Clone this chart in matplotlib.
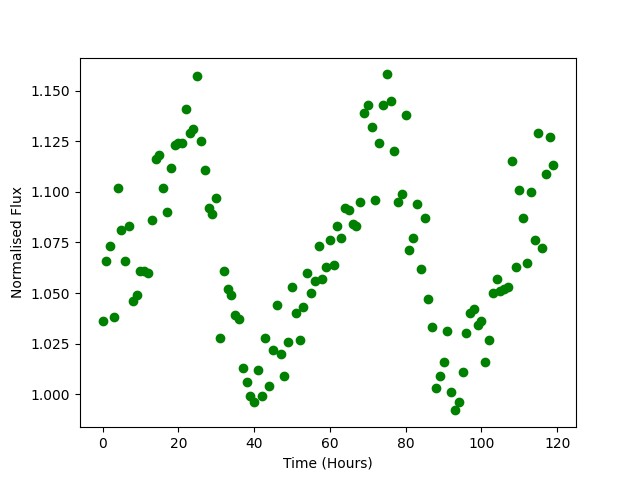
import matplotlib
matplotlib.use("Agg")
import matplotlib.pyplot as plt

# Data: hourly normalised flux readings
hours = list(range(120))
flux = [
    1.036, 1.066, 1.073, 1.038, 1.102, 1.081, 1.066, 1.083, 1.046, 1.049,
    1.061, 1.061, 1.060, 1.086, 1.116, 1.118, 1.102, 1.090, 1.112, 1.123,
    1.124, 1.124, 1.141, 1.129, 1.131, 1.157, 1.125, 1.111, 1.092, 1.089,
    1.097, 1.028, 1.061, 1.052, 1.049, 1.039, 1.037, 1.013, 1.006, 0.999,
    0.996, 1.012, 0.999, 1.028, 1.004, 1.022, 1.044, 1.020, 1.009, 1.026,
    1.053, 1.040, 1.027, 1.043, 1.060, 1.050, 1.056, 1.073, 1.057, 1.063,
    1.076, 1.064, 1.083, 1.077, 1.092, 1.091, 1.084, 1.083, 1.095, 1.139,
    1.143, 1.132, 1.096, 1.124, 1.143, 1.158, 1.145, 1.120, 1.095, 1.099,
    1.138, 1.071, 1.077, 1.094, 1.062, 1.087, 1.047, 1.033, 1.003, 1.009,
    1.016, 1.031, 1.001, 0.992, 0.996, 1.011, 1.030, 1.040, 1.042, 1.034,
    1.036, 1.016, 1.027, 1.050, 1.057, 1.051, 1.052, 1.053, 1.115, 1.063,
    1.101, 1.087, 1.065, 1.100, 1.076, 1.129, 1.072, 1.109, 1.127, 1.113,
]

plt.figure(figsize=(6.4, 4.8), dpi=100)
plt.plot(hours, flux, 'go')

plt.xlabel("Time (Hours)")
plt.ylabel("Normalised Flux")

plt.savefig("out.png", dpi=100)
